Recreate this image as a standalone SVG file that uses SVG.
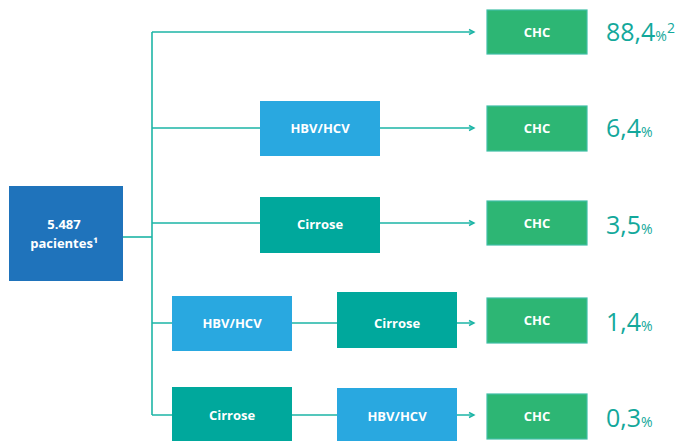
<svg xmlns="http://www.w3.org/2000/svg" width="683" height="441" viewBox="0 0 683 441">
<defs>
<style>
.ln{stroke:#1db5a6;stroke-width:1.6;fill:none}
.lbl{font-family:"Open Sans","Liberation Sans",sans-serif;font-weight:bold;font-size:13px;fill:#ffffff;text-anchor:middle}
.blue{fill:#29a8e0}
.teal{fill:#00a89c}
.chc{fill:#2db674;stroke:#3fbfa6;stroke-width:1.2}
.pct{font-family:"Open Sans","Liberation Sans",sans-serif;font-size:25px;fill:#13a89b}
.pc{font-size:14px}
</style>
<marker id="arr" markerWidth="8" markerHeight="8" refX="6" refY="4" orient="auto" markerUnits="userSpaceOnUse">
<path d="M1,1.5 L6,4 L1,6.5" fill="none" stroke="#1db5a6" stroke-width="1.4"/>
</marker>
</defs>
<g id="connectors">
<path class="ln" d="M123,237 H152"/>
<path class="ln" d="M152,32 V415"/>
<path class="ln" d="M152,32 H474" marker-end="url(#arr)"/>
<path class="ln" d="M152,128 H260 M380,128 H474" marker-end="url(#arr)"/>
<path class="ln" d="M152,223 H260 M380,223 H474" marker-end="url(#arr)"/>
<path class="ln" d="M152,323 H172 M292,323 H337 M457,323 H474" marker-end="url(#arr)"/>
<path class="ln" d="M152,415 H172 M292,415 H337 M457,415 H474" marker-end="url(#arr)"/>
</g>
<g id="start">
<rect x="9" y="186" width="114" height="95" fill="#1f73bb"/>
<text class="lbl" x="64" y="229">5.487</text>
<text class="lbl" x="64" y="248">pacientes¹</text>
</g>
<g id="r2-hbv"><rect class="blue" x="260" y="101" width="120" height="55"/><text class="lbl" x="320" y="133">HBV/HCV</text></g>
<g id="r3-cir"><rect class="teal" x="260" y="197" width="120" height="56"/><text class="lbl" x="320" y="229">Cirrose</text></g>
<g id="r4-hbv"><rect class="blue" x="172" y="296" width="120" height="55"/><text class="lbl" x="232" y="328">HBV/HCV</text></g>
<g id="r4-cir"><rect class="teal" x="337" y="292" width="120" height="56"/><text class="lbl" x="397" y="328">Cirrose</text></g>
<g id="r5-cir"><rect class="teal" x="172" y="387" width="120" height="54"/><text class="lbl" x="232" y="420">Cirrose</text></g>
<g id="r5-hbv"><rect class="blue" x="337" y="388" width="120" height="53"/><text class="lbl" x="397" y="421">HBV/HCV</text></g>
<g id="chc1"><rect class="chc" x="487" y="10" width="100" height="44"/><text class="lbl" x="537" y="37">CHC</text></g>
<g id="chc2"><rect class="chc" x="487" y="106" width="100" height="45"/><text class="lbl" x="537" y="133">CHC</text></g>
<g id="chc3"><rect class="chc" x="487" y="201" width="100" height="44"/><text class="lbl" x="537" y="228">CHC</text></g>
<g id="chc4"><rect class="chc" x="487" y="298" width="100" height="45"/><text class="lbl" x="537" y="325">CHC</text></g>
<g id="chc5"><rect class="chc" x="487" y="394" width="100" height="45"/><text class="lbl" x="537" y="421">CHC</text></g>
<g id="pct1"><text class="pct" x="606" y="41">88,4<tspan class="pc">%</tspan><tspan class="pc" dy="-8">2</tspan></text></g>
<g id="pct2"><text class="pct" x="606" y="137">6,4<tspan class="pc">%</tspan></text></g>
<g id="pct3"><text class="pct" x="606" y="234">3,5<tspan class="pc">%</tspan></text></g>
<g id="pct4"><text class="pct" x="606" y="331">1,4<tspan class="pc">%</tspan></text></g>
<g id="pct5"><text class="pct" x="606" y="427">0,3<tspan class="pc">%</tspan></text></g>
</svg>
